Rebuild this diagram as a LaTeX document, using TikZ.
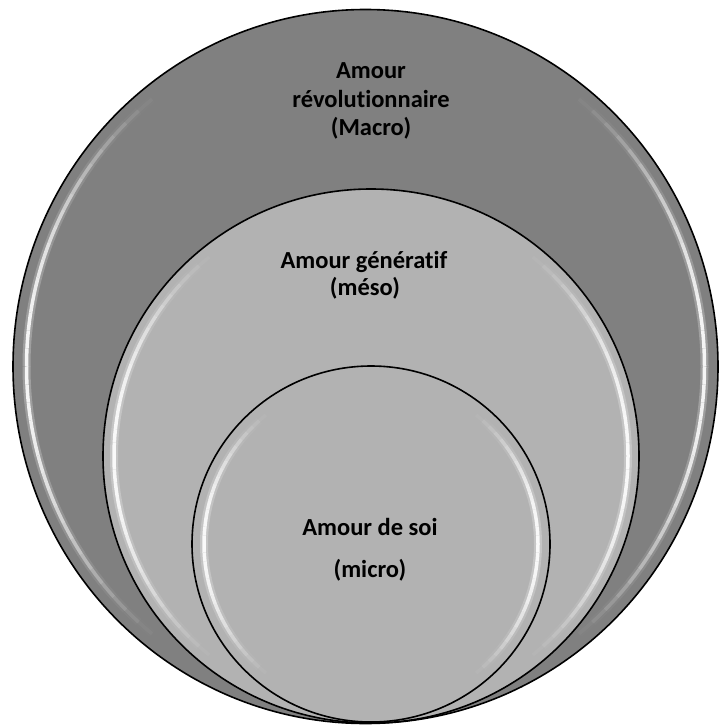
\documentclass[tikz,border=0pt]{standalone}
\usepackage{fontspec}
\setmainfont{Carlito}[Ligatures=NoCommon]
\usetikzlibrary{shapes.geometric}

\begin{document}
\begin{tikzpicture}[x=1pt,y=-1pt,
  ring/.style={ellipse, draw=black, line width=1.6pt, inner sep=0pt},
  ringtext/.style={anchor=base, align=center, text=black,
    font=\bfseries\fontsize{24.5}{29}\selectfont}
]
\useasboundingbox[fill=white] (0,0) rectangle (721,728);

% bevel highlight inside a ring: strongest on the left and right sides
\newcommand\bevelgloss[3]{%
  \foreach \a in {0,3,...,357}{%
    \pgfmathsetmacro\op{max(0,(abs(cos(\a+1.5))-0.6)/0.4)^1.5}%
    \draw[white, line width=8pt, opacity=0.25*\op]
      (#1) ++(\a:#2 and #3) arc[start angle=\a, end angle=\a+3, x radius=#2, y radius=#3];
    \draw[white, line width=3.5pt, opacity=0.9*\op]
      (#1) ++(\a:#2 and #3) arc[start angle=\a, end angle=\a+3, x radius=#2, y radius=#3];
  }%
}

% outer circle
\node[ring, fill=black!50, minimum width=705pt, minimum height=714pt] (macro) at (365.5,366.5) {};
\bevelgloss{macro.center}{339pt}{344pt}

% middle circle
\node[ring, fill=black!30, minimum width=536pt, minimum height=534pt] (meso) at (371,456) {};
\bevelgloss{meso.center}{257pt}{256pt}

% inner circle
\node[ring, fill=black!30, minimum width=358pt, minimum height=356pt] (micro) at (371,544) {};
\bevelgloss{micro.center}{167pt}{166pt}

% labels
\node[ringtext] (t1a) at (371,78) {Amour};
\node[ringtext] (t1b) at (371,107) {révolutionnaire};
\node[ringtext] (t1c) at (371,135) {(Macro)};
\node[ringtext] (t2a) at (364,268) {Amour génératif};
\node[ringtext] (t2b) at (365,295) {(méso)};
\node[ringtext] (t3a) at (370,535) {Amour de soi};
\node[ringtext] (t3b) at (370,577) {(micro)};
\end{tikzpicture}
\end{document}
